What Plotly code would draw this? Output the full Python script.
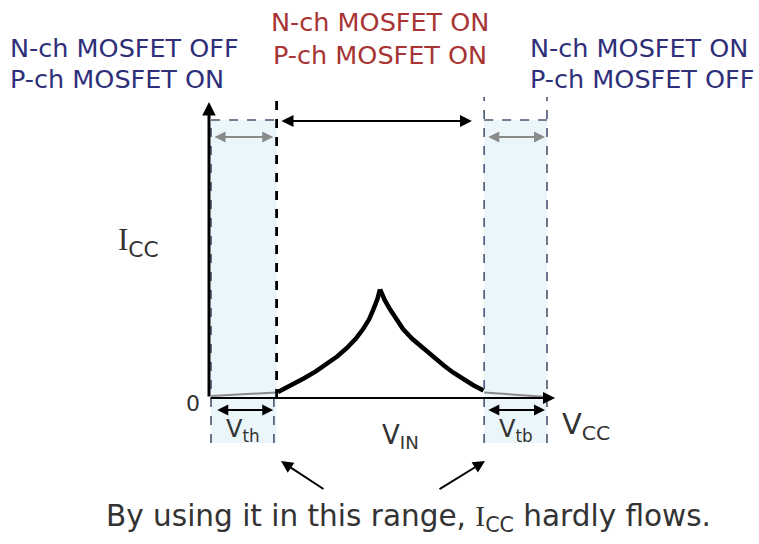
import plotly.graph_objects as go

# ---------------- data (normalised units: V in volts, I relative to box top) ----
VCC = 5.0            # supply voltage (end of V_IN axis)
VTH = 1.0            # N-ch threshold
VTB = 0.93           # P-ch threshold (measured from VCC)
I_TOP = 1.0          # top of shaded threshold boxes

# I_CC through-current curve
v_rise = [1.02, 1.22, 1.40, 1.58, 1.74, 1.90, 2.04, 2.17, 2.28, 2.37, 2.43, 2.49, 2.53]
i_rise = [0.022, 0.045, 0.070, 0.096, 0.122, 0.150, 0.180, 0.213, 0.248, 0.284, 0.318, 0.355, 0.391]
v_fall = [2.53, 2.60, 2.68, 2.77, 2.87, 3.01, 3.17, 3.31, 3.47, 3.61, 3.76, 3.91, 4.06]
i_fall = [0.391, 0.352, 0.318, 0.282, 0.248, 0.212, 0.178, 0.148, 0.118, 0.092, 0.067, 0.046, 0.027]

# tiny leakage inside the threshold ranges
v_leak_l = [0.03, 1.0]
i_leak_l = [0.007, 0.020]
v_leak_r = [4.07, 5.0]
i_leak_r = [0.020, 0.004]

state_left = ["N-ch MOSFET OFF", "P-ch MOSFET ON"]
state_mid = ["N-ch MOSFET ON", "P-ch MOSFET ON"]
state_right = ["N-ch MOSFET ON", "P-ch MOSFET OFF"]
SERIF_I = "<span style='font-family:Liberation Serif'>I</span>"
note = "By using it in this range, " + SERIF_I + "<sub>CC</sub> hardly flows."

BLUE = "#2f2f7a"
RED = "#a83434"
DARK = "#333333"
BOXLINE = "#4b5470"
FILL = "#ebf6fa"
FONT = "DejaVu Sans"

fig = go.Figure()

fig.add_trace(go.Scatter(x=v_leak_l, y=i_leak_l, mode="lines",
                         line=dict(color="#8a8a8a", width=2), hoverinfo="skip"))
fig.add_trace(go.Scatter(x=v_leak_r, y=i_leak_r, mode="lines",
                         line=dict(color="#8a8a8a", width=2), hoverinfo="skip"))
fig.add_trace(go.Scatter(x=v_rise, y=i_rise, mode="lines",
                         line=dict(color="black", width=4.5), hoverinfo="skip"))
fig.add_trace(go.Scatter(x=v_fall, y=i_fall, mode="lines",
                         line=dict(color="black", width=4.5), hoverinfo="skip"))

XL = VTH
XR = VCC - VTB
YB = -0.162
YT = 1.083

shapes = []
# shaded boxes
shapes.append(dict(type="rect", x0=0.03, x1=XL, y0=YB, y1=I_TOP, fillcolor=FILL,
                   line=dict(width=0), layer="below"))
shapes.append(dict(type="rect", x0=XR, x1=VCC, y0=YB, y1=I_TOP, fillcolor=FILL,
                   line=dict(width=0), layer="below"))


def dline(x0, y0, x1, y1, color=BOXLINE, width=1.6, dash="dash"):
    shapes.append(dict(type="line", x0=x0, y0=y0, x1=x1, y1=y1,
                       line=dict(color=color, width=width, dash=dash)))


dline(0.03, I_TOP, XL, I_TOP)
dline(0.03, YB, 0.03, I_TOP)
dline(0.96, YB, 0.96, 0)
dline(XL, 0, XL, YT, color="black", width=2.8)
dline(XR, YB, XR, YT)
dline(VCC, YB, VCC, YT)
dline(XR, I_TOP, VCC, I_TOP)

fig.update_layout(shapes=shapes)

ann = []


def arrow(x0, y0, x1, y1, color="black", width=2, both=False, size=1.0, head=2):
    ann.append(dict(x=x1, y=y1, ax=x0, ay=y0, xref="x", yref="y", axref="x", ayref="y",
                    text="", showarrow=True, arrowhead=head, startarrowhead=head,
                    arrowsize=size, startarrowsize=size,
                    arrowwidth=width, arrowcolor=color,
                    arrowside="end+start" if both else "end",
                    standoff=0, startstandoff=0))


# axes
arrow(0, 0, 0, 1.065, width=3, size=0.9)
arrow(0, 0, 5.12, 0, width=2.2, size=1.1)
# ON range arrow
arrow(1.05, 0.996, 3.89, 0.996, width=2, both=True, size=1.2)
# threshold width arrows
arrow(0.06, 0.939, 0.95, 0.939, color="#8a8a8a", width=2, both=True, size=1.1)
arrow(4.11, 0.939, 4.97, 0.939, color="#8a8a8a", width=2, both=True, size=1.1)
arrow(0.10, -0.043, 0.95, -0.043, width=2, both=True, size=1.1)
arrow(4.11, -0.043, 4.97, -0.043, width=2, both=True, size=1.1)
# pointers from note
arrow(1.716, -0.331, 1.065, -0.227, width=2, size=1.2)
arrow(3.388, -0.331, 4.083, -0.227, width=2, size=1.2)


def label(x, y, text, size, color=DARK, xanchor="center"):
    ann.append(dict(x=x, y=y, xref="x", yref="y", text=text, showarrow=False,
                    xanchor=xanchor, yanchor="middle",
                    font=dict(family=FONT, size=size, color=color)))


label(-2.973, 1.259, state_left[0], 25.5, BLUE, "left")
label(-2.973, 1.147, state_left[1], 25.5, BLUE, "left")
label(2.53, 1.353, state_mid[0], 25.5, RED)
label(2.53, 1.234, state_mid[1], 25.5, RED)
label(4.719, 1.259, state_right[0], 25.5, BLUE, "left")
label(4.719, 1.147, state_right[1], 25.5, BLUE, "left")

label(-1.05, 0.56, SERIF_I + "<sub>CC</sub>", 31)
label(-0.24, -0.02, "0", 22)
label(2.83, -0.14, "V<sub>IN</sub>", 26)
label(5.58, -0.10, "V<sub>CC</sub>", 29)
label(0.50, -0.118, "V<sub>th</sub>", 24)
label(4.54, -0.118, "V<sub>tb</sub>", 24)
label(2.944, -0.43, note, 29.5)

fig.update_layout(annotations=ann)

fig.update_layout(
    width=759, height=544,
    margin=dict(l=0, r=0, t=0, b=0),
    paper_bgcolor="white", plot_bgcolor="white",
    showlegend=False,
    xaxis=dict(range=[-3.0917, 8.136], visible=False, fixedrange=True),
    yaxis=dict(range=[-0.5252, 1.4317], visible=False, fixedrange=True),
)

fig.write_html("out.html", config={"displayModeBar": False},
               post_script="document.body.style.margin='0px';")
